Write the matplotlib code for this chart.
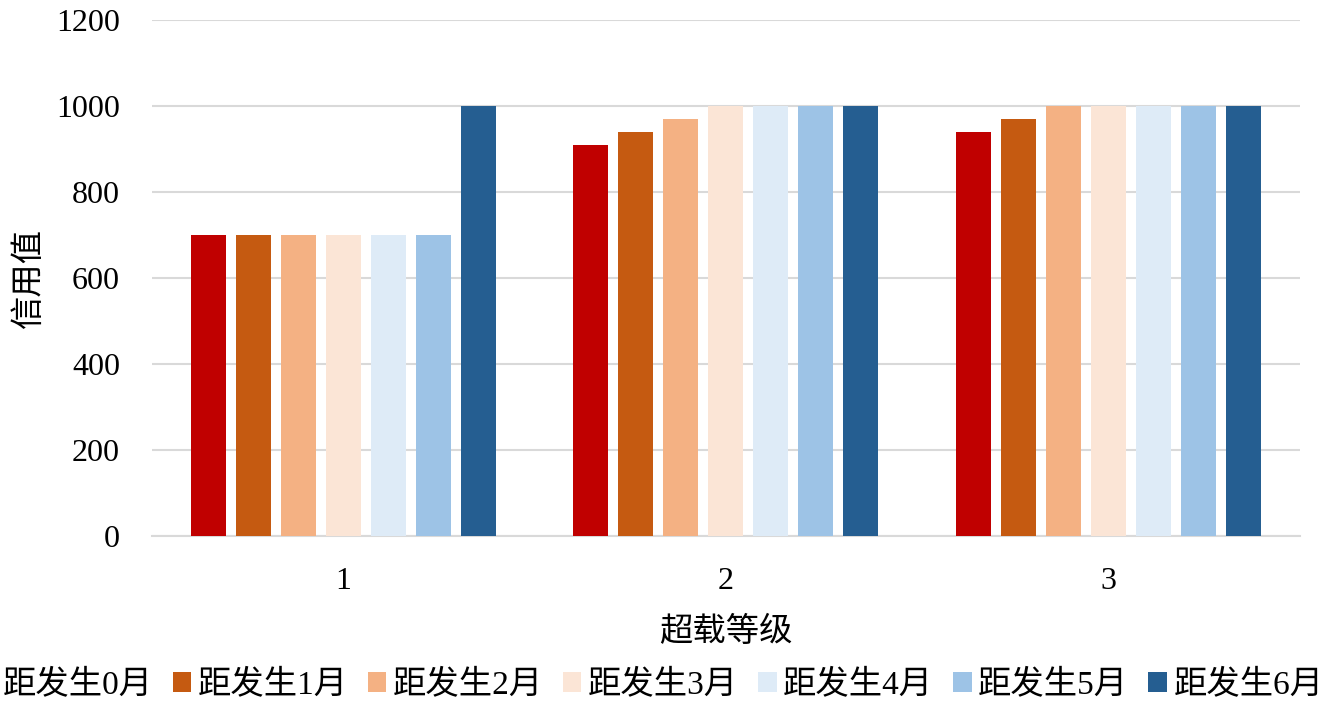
import matplotlib
matplotlib.use("Agg")
import matplotlib.pyplot as plt
import numpy as np

plt.rcParams['font.family'] = ['Liberation Serif', 'Noto Sans CJK SC']

# data
levels = ['1', '2', '3']
series_names = ['距发生0月', '距发生1月', '距发生2月', '距发生3月',
                '距发生4月', '距发生5月', '距发生6月']
values = [
    [700, 910, 940],
    [700, 940, 970],
    [700, 970, 1000],
    [700, 1000, 1000],
    [700, 1000, 1000],
    [700, 1000, 1000],
    [1000, 1000, 1000],
]
colors = ['#C00000', '#C55A11', '#F4B183', '#FBE5D6',
          '#DEEBF7', '#9DC3E6', '#255E91']

fig = plt.figure(figsize=(13.25, 7.02), dpi=100)
ax = fig.add_axes([0.1147, 0.2365, 0.8663, 0.735])

x = np.arange(1, len(levels) + 1)
pitch = 0.1176
width = 0.0915
for i, (name, vals, c) in enumerate(zip(series_names, values, colors)):
    ax.bar(x + (i - 3) * pitch, vals, width=width, color=c, label=name, zorder=3)

ax.set_xlim(0.5, 3.5)
ax.set_ylim(0, 1200)
ax.set_yticks(range(0, 1201, 200))
ax.set_xticks(x)
ax.set_xticklabels(levels)
ax.yaxis.grid(True, color='#d9d9d9', linewidth=1.5, zorder=0)
for s in ['top', 'right', 'left']:
    ax.spines[s].set_visible(False)
ax.spines['bottom'].set_color('#d9d9d9')
ax.spines['bottom'].set_linewidth(1.5)
ax.tick_params(axis='both', length=0, labelsize=23)
ax.tick_params(axis='y', pad=23)
ax.tick_params(axis='x', pad=22)

ax.set_ylabel('信用值', fontsize=24, labelpad=8)
ax.set_xlabel('超载等级', fontsize=24, labelpad=15)

fig.legend(loc='center', bbox_to_anchor=(0.491, 0.024), ncol=7, frameon=False,
           fontsize=24, handlelength=0.55, handleheight=0.55,
           handletextpad=0.2, columnspacing=0.6, borderaxespad=0)

fig.savefig('out.png', dpi=100)
